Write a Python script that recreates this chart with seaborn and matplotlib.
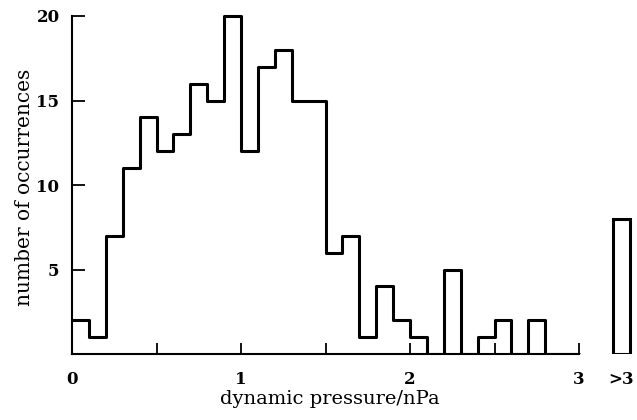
import numpy as np
import pandas as pd
import matplotlib
matplotlib.use("Agg")
import matplotlib.pyplot as plt
import seaborn as sns

# ---- data ----
bin_edges = [round(0.1 * i, 1) for i in range(31)]
counts = [2, 1, 7, 11, 14, 12, 13, 16, 15, 20,
          12, 17, 18, 15, 15, 6, 7, 1, 4, 2,
          1, 0, 5, 0, 1, 2, 0, 2, 0, 0]
over_edges = [3.2, 3.3]
over_count = [8]
over_label = ">3"
x_ticks = [0, 0.5, 1, 1.5, 2, 2.5, 3]
x_ticklabels = ["0", "", "1", "", "2", "", "3"]
y_ticks = [5, 10, 15, 20]
y_ticklabels = ["5", "10", "15", "20"]
xlabel = "dynamic pressure/nPa"
ylabel = "number of occurrences"

sns.set_style("ticks", {"axes.edgecolor": "black", "text.color": "black",
                        "axes.labelcolor": "black", "xtick.color": "black",
                        "ytick.color": "black"})
plt.rcParams["font.family"] = ["DejaVu Serif", "Liberation Serif"]

fig = plt.figure(figsize=(6.37, 4.2), dpi=100)
W, H = 637, 420
px_per_x = 169.0
px_per_y = 16.9
x0_px, y0_px = 72, 354
xmax = 3.34
ymax = 20.5
ax = fig.add_axes([x0_px / W, (H - y0_px) / H, xmax * px_per_x / W, ymax * px_per_y / H])

centers = [(a + b) / 2 for a, b in zip(bin_edges[:-1], bin_edges[1:])]
df = pd.DataFrame({"x": centers, "w": counts})
sns.histplot(data=df, x="x", weights="w", bins=bin_edges, element="step", fill=False,
             color="black", linewidth=2.2, ax=ax)
over_centers = [(over_edges[0] + over_edges[1]) / 2]
df_over = pd.DataFrame({"x": over_centers, "w": over_count})
sns.histplot(data=df_over, x="x", weights="w", bins=over_edges, element="bars", fill=False,
             color="black", linewidth=2.2, ax=ax)

ax.set_xlim(0, xmax)
ax.set_ylim(0, ymax)
for s in ["top", "right"]:
    ax.spines[s].set_visible(False)
ax.spines["bottom"].set_bounds(0, 3)
ax.spines["left"].set_bounds(0, 20)
for s in ["bottom", "left"]:
    ax.spines[s].set_linewidth(1.5)
    ax.spines[s].set_color("black")

ax.set_xticks(x_ticks + over_centers)
ax.set_xticklabels(x_ticklabels + [over_label])
ax.xaxis.get_major_ticks()[-1].tick1line.set_visible(False)
ax.set_yticks(y_ticks)
ax.set_yticklabels(y_ticklabels)
ax.tick_params(axis="x", direction="in", length=8, width=1.3, pad=12, labelsize=12,
               colors="black")
ax.tick_params(axis="y", direction="in", length=9.5, width=1.3, pad=9, labelsize=12,
               colors="black")
for lab in ax.get_xticklabels() + ax.get_yticklabels():
    lab.set_fontweight("bold")

ax.set_xlabel(xlabel, fontsize=14, color="black")
ax.set_ylabel(ylabel, fontsize=14.5, color="black")
ax.xaxis.set_label_coords(0.457, -0.104)
ax.xaxis.label.set_va("top")
ax.yaxis.set_label_coords(-0.067, 0.482)

fig.savefig("out.png", dpi=100)
